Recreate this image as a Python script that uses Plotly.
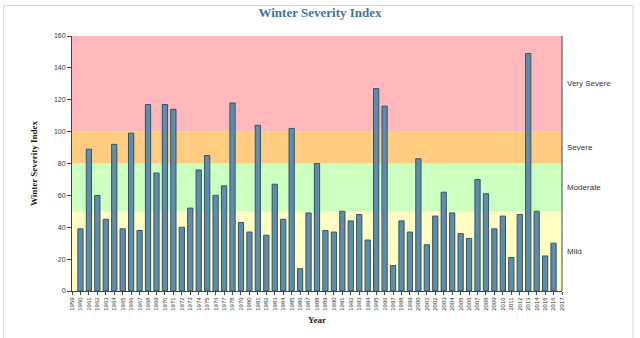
import plotly.graph_objects as go

# Winter severity index by year
years = list(range(1960, 2017))
severity = [39, 89, 60, 45, 92, 39, 99, 38, 117, 74,
            117, 114, 40, 52, 76, 85, 60, 66, 118, 43,
            37, 104, 35, 67, 45, 102, 14, 49, 80, 38,
            37, 50, 44, 48, 32, 127, 116, 16, 44, 37,
            83, 29, 47, 62, 49, 36, 33, 70, 61, 39,
            47, 21, 48, 149, 50, 22, 30]

# Severity classes: (lower, upper, label, colour)
band_lows = [0, 50, 80, 100]
band_highs = [50, 80, 100, 160]
band_names = ["Mild", "Moderate", "Severe", "Very Severe"]
band_colors = ["#ffffc4", "#ccffc0", "#ffcc80", "#ffb8bc"]

tick_years = list(range(1959, 2018))

fig = go.Figure()

fig.add_trace(go.Bar(
    x=years,
    y=severity,
    width=0.62,
    marker=dict(color="#5f8cab", line=dict(color="#355468", width=1)),
    hovertemplate="%{x}: %{y}<extra></extra>",
))

for lo, hi, name, col in zip(band_lows, band_highs, band_names, band_colors):
    fig.add_shape(type="rect", xref="paper", yref="y", x0=0, x1=1, y0=lo, y1=hi,
                  fillcolor=col, line=dict(width=0), layer="below")
    fig.add_annotation(xref="paper", yref="y", x=1.006, y=(lo + hi) / 2,
                       text=name, showarrow=False, xanchor="left",
                       font=dict(family="Arial, Liberation Sans, sans-serif", size=8, color="#333"))

# right-hand frame line
fig.add_shape(type="line", xref="paper", yref="paper", x0=1, x1=1, y0=0, y1=1,
              line=dict(color="#444", width=1))

# outer panel border (open at the bottom)
fig.add_shape(type="rect", xref="paper", yref="paper",
              x0=-0.14, x1=1.145, y0=-0.4, y1=1.12,
              line=dict(color="#d0d4d8", width=1), fillcolor="rgba(0,0,0,0)", layer="below")

fig.update_layout(
    width=640, height=338,
    margin=dict(l=72, r=78, t=36, b=47),
    paper_bgcolor="white",
    plot_bgcolor="white",
    showlegend=False,
    bargap=0.3,
    title=dict(text="<b>Winter Severity Index</b>", x=0.5, xanchor="center",
               y=0.963, yanchor="middle",
               font=dict(family="Liberation Serif, Times New Roman, serif", size=13, color="#3f74a0")),
    font=dict(family="Arial, Liberation Sans, sans-serif", size=7, color="#333"),
)

fig.update_xaxes(
    range=[1959, 2017],
    tickmode="array", tickvals=tick_years, ticktext=[str(y) for y in tick_years],
    tickangle=-90, tickfont=dict(size=6, color="#333"),
    ticks="outside", ticklen=3, tickcolor="#444",
    showline=True, linecolor="#444", linewidth=1,
    showgrid=False, zeroline=False,
    title=dict(text="<b>Year</b>", standoff=6,
               font=dict(family="Liberation Serif, Times New Roman, serif", size=9, color="#222")),
)

fig.update_yaxes(
    range=[0, 160], dtick=20,
    tickfont=dict(size=7, color="#333"),
    ticks="outside", ticklen=4, tickcolor="#444",
    showline=True, linecolor="#444", linewidth=1,
    showgrid=False, zeroline=False,
    title=dict(text="<b>Winter Severity Index</b>", standoff=14,
               font=dict(family="Liberation Serif, Times New Roman, serif", size=9, color="#222")),
)

fig.write_html("out.html")
